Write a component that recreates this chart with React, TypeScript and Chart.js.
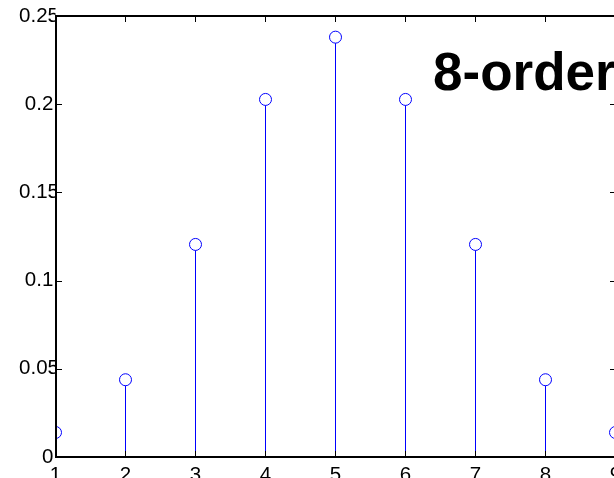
import React, { useEffect, useRef } from "react";
import { Chart, registerables } from "chart.js";

Chart.register(...registerables);

const xValues = [1, 2, 3, 4, 5, 6, 7, 8, 9];
const yValues = [0.0139, 0.0438, 0.1205, 0.2027, 0.2380, 0.2027, 0.1205, 0.0438, 0.0139];
const xTickValues = [1, 2, 3, 4, 5, 6, 7, 8, 9];
const yTickValues = [0, 0.05, 0.1, 0.15, 0.2, 0.25];
const yTickLabels = ["0 ", "0.05", "0.1 ", "0.15", "0.2 ", "0.25"];
const titleText = "8-order";

const FONT = '"Liberation Sans", Arial, Helvetica, sans-serif';

const boxPlugin = {
  id: "matlabBox",
  afterDraw(chart: any) {
    const { ctx, chartArea } = chart;
    const xs = chart.scales.x;
    const ys = chart.scales.y;
    const left = Math.round(chartArea.left);
    const right = Math.round(chartArea.right);
    const top = Math.round(chartArea.top);
    const bottom = Math.round(chartArea.bottom);
    ctx.save();
    ctx.strokeStyle = "#000";
    ctx.lineWidth = 2;
    ctx.strokeRect(left, top, right - left, bottom - top);
    ctx.lineWidth = 1;
    const tl = 6;
    ctx.beginPath();
    xTickValues.forEach((v) => {
      const px = Math.floor(xs.getPixelForValue(v)) + 0.5;
      ctx.moveTo(px, bottom);
      ctx.lineTo(px, bottom - tl);
      ctx.moveTo(px, top);
      ctx.lineTo(px, top + tl);
    });
    yTickValues.forEach((v) => {
      const py = Math.round(ys.getPixelForValue(v)) + 0.5;
      ctx.moveTo(left, py);
      ctx.lineTo(left + tl, py);
      ctx.moveTo(right, py);
      ctx.lineTo(right - tl, py);
    });
    ctx.stroke();
    ctx.fillStyle = "#000";
    ctx.font = `bold 53px ${FONT}`;
    ctx.textBaseline = "alphabetic";
    ctx.textAlign = "left";
    ctx.fillText(titleText, 433, 90);
    ctx.restore();
  },
};

export default function App() {
  const ref = useRef<HTMLCanvasElement>(null);
  useEffect(() => {
    const canvas = ref.current!;
    const chart = new Chart(canvas, {
      data: {
        datasets: [
          {
            type: "scatter",
            data: xValues.map((x, i) => ({ x, y: yValues[i] })),
            borderColor: "#0000ff",
            backgroundColor: "#ffffff",
            pointRadius: 6,
            pointBorderWidth: 1,
            pointStyle: "circle",
            order: 0,
          } as any,
          {
            type: "bar",
            data: xValues.map((x, i) => ({ x, y: yValues[i] })),
            backgroundColor: "#0000ff",
            borderColor: "#0000ff",
            barThickness: 1,
            inflateAmount: 0,
            order: 1,
          } as any,
        ],
      },
      options: {
        responsive: false,
        animation: false,
        events: [],
        layout: { autoPadding: false, padding: { top: 16, right: 0.5, left: 0, bottom: 0 } },
        plugins: {
          legend: { display: false },
          tooltip: { enabled: false },
          title: { display: false },
        },
        scales: {
          x: {
            type: "linear",
            min: 1,
            max: 9,
            offset: false,
            grid: { display: false, drawTicks: false, offset: false },
            border: { display: false },
            afterBuildTicks: (s: any) => {
              s.ticks = xTickValues.map((v) => ({ value: v }));
            },
            ticks: {
              color: "#000",
              padding: 6,
              maxRotation: 0,
              autoSkip: false,
              font: { family: FONT, size: 20.5 },
              callback: (v: any) => String(v),
            },
            afterFit: (s: any) => {
              s.height = 21;
              s.paddingLeft = 0;
              s.paddingRight = 0;
            },
          },
          y: {
            type: "linear",
            min: 0,
            max: 0.25,
            grid: { display: false, drawTicks: false },
            border: { display: false },
            afterBuildTicks: (s: any) => {
              s.ticks = yTickValues.map((v) => ({ value: v }));
            },
            ticks: {
              color: "#000",
              padding: -3.5,
              autoSkip: false,
              font: { family: FONT, size: 20.5 },
              callback: (v: any) => {
                const i = yTickValues.findIndex((t) => Math.abs(t - v) < 1e-9);
                return i >= 0 ? yTickLabels[i] : "";
              },
            },
            afterFit: (s: any) => {
              s.width = 55.5;
              s.paddingTop = 0;
              s.paddingBottom = 0;
            },
          },
        },
      },
      plugins: [boxPlugin],
    } as any);
    return () => chart.destroy();
  }, []);
  return (
    <div style={{ position: "fixed", left: 0, top: 0, width: 614, height: 478, overflow: "hidden", background: "#fff" }}>
      <canvas ref={ref} width={616} height={478} style={{ display: "block" }} />
    </div>
  );
}
